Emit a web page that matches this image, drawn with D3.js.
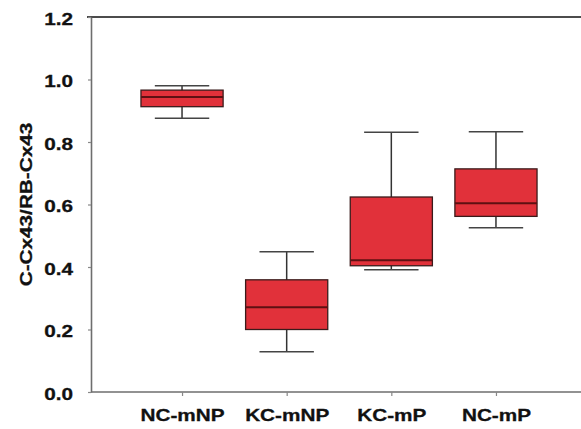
<!DOCTYPE html>
<html>
<head>
<meta charset="utf-8">
<script src="https://cdn.jsdelivr.net/npm/d3@7"></script>
<style>
  body { margin: 0; background: #fff; }
  text { font-family: 'Liberation Sans', Arial, sans-serif; font-weight: bold; }
</style>
</head>
<body>
<div id="chart"></div>
<script>
const groups = ['NC-mNP', 'KC-mNP', 'KC-mP', 'NC-mP'];
const whiskerLow = [0.876, 0.129, 0.391, 0.526];
const q1 = [0.913, 0.200, 0.404, 0.562];
const median = [0.944, 0.271, 0.422, 0.604];
const q3 = [0.966, 0.359, 0.624, 0.714];
const whiskerHigh = [0.980, 0.449, 0.831, 0.833];
const yTicks = [0, 0.2, 0.4, 0.6, 0.8, 1.0, 1.2];

const W = 581, H = 429;
const margin = { top: 17, right: -6, bottom: 37, left: 91 };
const stretch = 1.22; // glyphs in the picture are wide

const boxes = groups.map((g, i) => ({
  name: g, lo: whiskerLow[i], q1: q1[i], med: median[i], q3: q3[i], hi: whiskerHigh[i],
}));

const svg = d3.select('#chart').append('svg')
  .attr('width', W)
  .attr('height', H);

const xScale = d3.scalePoint()
  .domain(groups)
  .range([margin.left, W - margin.right])
  .padding(0.87);

const yScale = d3.scaleLinear()
  .domain([0, 1.2])
  .range([H - margin.bottom, margin.top]);

const step = xScale.step();
const boxW = step * 0.785;
const capW = step * 0.52;

function widen(sel) {
  sel.each(function () {
    const len = this.getComputedTextLength();
    d3.select(this)
      .attr('textLength', len * stretch)
      .attr('lengthAdjust', 'spacingAndGlyphs');
  });
}

// top frame line
svg.append('line')
  .attr('x1', margin.left - 4).attr('x2', W)
  .attr('y1', yScale(1.2)).attr('y2', yScale(1.2))
  .attr('stroke', '#111')
  .attr('stroke-width', 1.6);

// y axis
const yAxis = svg.append('g')
  .attr('transform', `translate(${margin.left},0)`)
  .call(d3.axisLeft(yScale)
    .tickValues(yTicks)
    .tickFormat(d3.format('.1f'))
    .tickSize(3)
    .tickSizeOuter(0)
    .tickPadding(15));
yAxis.select('.domain').attr('stroke', '#6e6e6e').attr('stroke-width', 1.6);
yAxis.selectAll('.tick line').attr('stroke', '#888').attr('stroke-width', 1.2);
yAxis.selectAll('.tick text')
  .attr('font-size', 17)
  .attr('fill', '#111')
  .attr('stroke', '#111')
  .attr('stroke-width', 0.3)
  .attr('dy', '0.42em')
  .call(widen);

// x axis
const xAxis = svg.append('g')
  .attr('transform', `translate(0,${yScale(0)})`)
  .call(d3.axisBottom(xScale)
    .tickSize(4)
    .tickSizeOuter(0)
    .tickPadding(13));
xAxis.select('.domain')
  .attr('d', `M${margin.left},0H${W}`)
  .attr('stroke', '#6e6e6e').attr('stroke-width', 1.6);
xAxis.selectAll('.tick line').attr('stroke', '#888').attr('stroke-width', 1.2);
xAxis.selectAll('.tick text')
  .attr('font-size', 17)
  .attr('fill', '#111')
  .attr('stroke', '#111')
  .attr('stroke-width', 0.3)
  .call(widen);

// y label
svg.append('text')
  .attr('transform', `translate(32,${(yScale(0) + yScale(1.2)) / 2}) rotate(-90)`)
  .attr('text-anchor', 'middle')
  .attr('font-size', 17)
  .attr('fill', '#111')
  .attr('stroke', '#111')
  .attr('stroke-width', 0.3)
  .text('C-Cx43/RB-Cx43')
  .call(widen);

// boxes
const box = svg.selectAll('.box')
  .data(boxes)
  .enter().append('g')
  .attr('class', 'box');

box.append('line') // whisker stem
  .attr('x1', d => xScale(d.name)).attr('x2', d => xScale(d.name))
  .attr('y1', d => yScale(d.lo)).attr('y2', d => yScale(d.hi))
  .attr('stroke', '#333')
  .attr('stroke-width', 1.5);

box.selectAll('.cap')
  .data(d => [d.lo, d.hi].map(v => ({ name: d.name, v })))
  .enter().append('line')
  .attr('class', 'cap')
  .attr('x1', d => xScale(d.name) - capW / 2)
  .attr('x2', d => xScale(d.name) + capW / 2)
  .attr('y1', d => yScale(d.v)).attr('y2', d => yScale(d.v))
  .attr('stroke', '#444')
  .attr('stroke-width', 1.5);

box.append('rect')
  .attr('x', d => xScale(d.name) - boxW / 2)
  .attr('width', boxW)
  .attr('y', d => yScale(d.q3))
  .attr('height', d => yScale(d.q1) - yScale(d.q3))
  .attr('fill', '#e1313a')
  .attr('stroke', '#3a1b1b')
  .attr('stroke-width', 1.3);

box.append('line') // median
  .attr('x1', d => xScale(d.name) - boxW / 2)
  .attr('x2', d => xScale(d.name) + boxW / 2)
  .attr('y1', d => yScale(d.med)).attr('y2', d => yScale(d.med))
  .attr('stroke', '#5e1012')
  .attr('stroke-width', 2);
</script>
</body>
</html>
